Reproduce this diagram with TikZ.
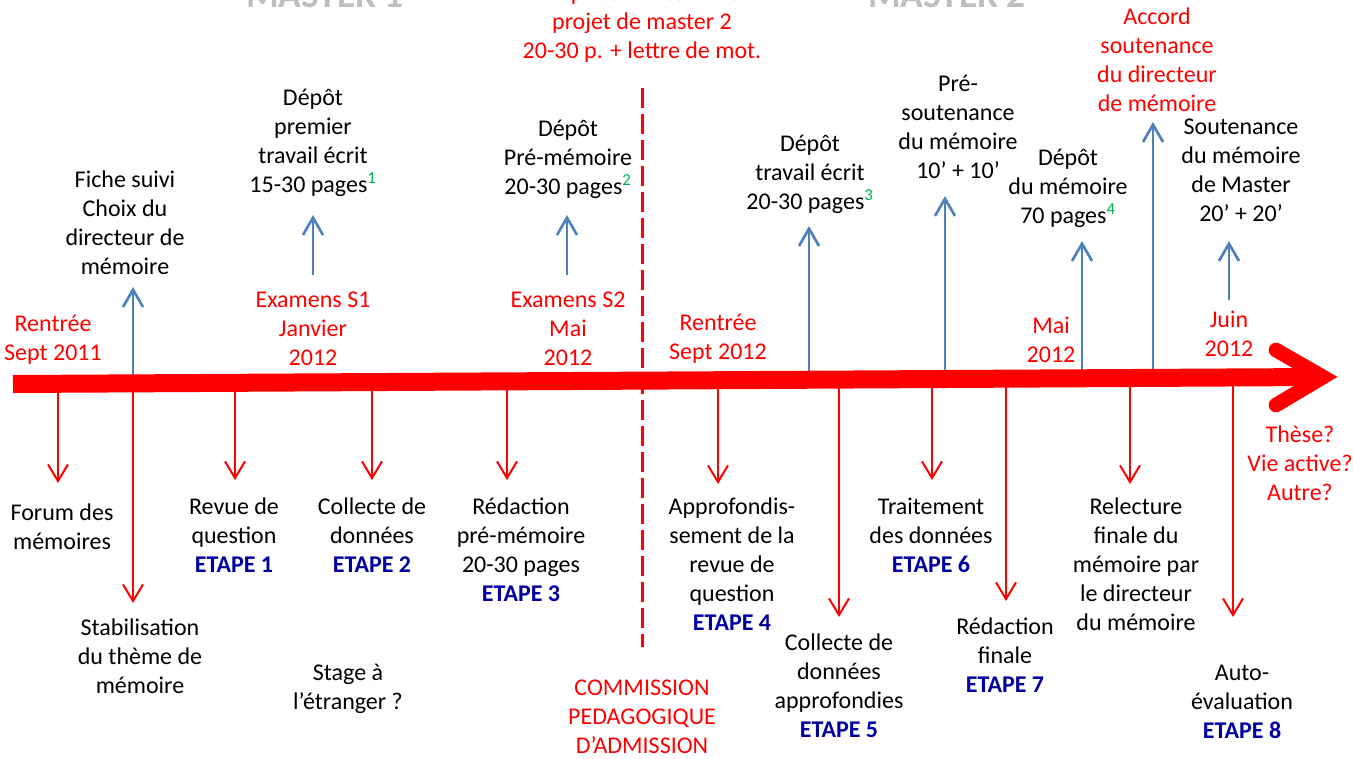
\documentclass[tikz,border=0pt]{standalone}
\usepackage{fontspec}
\setmainfont{Carlito}
\usetikzlibrary{arrows.meta}
\definecolor{axred}{RGB}{255,0,0}
\definecolor{upblue}{RGB}{79,129,189}
\definecolor{etapeblue}{RGB}{0,0,160}
\definecolor{supgreen}{RGB}{0,176,80}
\definecolor{mgray}{RGB}{191,191,191}
\newcommand{\supg}[1]{\textsuperscript{\color{supgreen}#1}}
\newcommand{\etapeb}[1]{\textbf{\color{etapeblue}ETAPE #1}}
\begin{document}
\begin{tikzpicture}[x=0.75pt,y=-0.75pt,
  lbl/.style={font=\fontsize{18}{21.75}\selectfont, align=center, inner sep=0pt, anchor=base},
  redlbl/.style={lbl, text=axred},
  masterlbl/.style={font=\fontsize{28}{34}\selectfont\bfseries, text=mgray, inner sep=0pt, anchor=base},
  uparr/.style={draw=upblue, line width=2pt, -{Straight Barb[length=13pt,width=15pt]}},
  downarr/.style={draw=axred, line width=1.5pt, -{Straight Barb[length=12.5pt,width=15pt]}},
  sepline/.style={draw=axred, line width=2.25pt, dash pattern=on 15pt off 4.5pt},
  band/.style={draw=axred, line width=13.5pt},
  chevron/.style={draw=axred, line width=11pt, line cap=round, miter limit=10}
]
\useasboundingbox (0,0) rectangle (1353,758);

% headings (cut at top)
\node[masterlbl] (m1) at (325,7) {MASTER 1};
\node[masterlbl] (m2) at (947,7) {MASTER 2};
\node[redlbl] (proj) at (642,58) {Dépôt du dossier de\\projet de master 2\\20-30 p. + lettre de mot.};

% separator
\coordinate (sepa) at (642,88);
\coordinate (sepb) at (642,647);
\draw[sepline] (sepa) -- (sepb);

% upper labels (y = baseline of last line)
\node[lbl] (fiche) at (125,274) {Fiche suivi\\Choix du\\directeur de\\mémoire};
\node[lbl] (dep1) at (313,192) {Dépôt\\premier\\travail écrit\\15-30 pages\supg{1}};
\node[lbl] (dep2) at (568,194) {Dépôt\\Pré-mémoire\\20-30 pages\supg{2}};
\node[lbl] (dep3) at (810,209) {Dépôt\\travail écrit\\20-30 pages\supg{3}};
\node[lbl] (presout) at (958,178) {Pré-\\soutenance\\du mémoire\\10’ + 10’};
\node[lbl] (depmem) at (1068,223) {Dépôt\\du mémoire\\70 pages\supg{4}};
\node[redlbl] (accord) at (1157,111) {Accord\\soutenance\\du directeur\\de mémoire};
\node[lbl] (sout) at (1241,221) {Soutenance\\du mémoire\\de Master\\20’ + 20’};

% dates
\node[redlbl] (rent1) at (53,360) {Rentrée\\Sept 2011};
\node[redlbl] (ex1) at (313,365) {Examens S1\\Janvier\\2012};
\node[redlbl] (ex2) at (568,365) {Examens S2\\Mai\\2012};
\node[redlbl] (rent2) at (718,359) {Rentrée\\Sept 2012};
\node[redlbl] (mai) at (1051,362) {Mai\\2012};
\node[redlbl] (juin) at (1229,356) {Juin\\2012};

% lower labels
\node[lbl] (forum) at (62,549) {Forum des\\mémoires};
\node[lbl] (stab) at (140,693) {Stabilisation\\du thème de\\mémoire};
\node[lbl] (revue) at (234,572) {Revue de\\question\\\etapeb{1}};
\node[lbl] (coll) at (372,572) {Collecte de\\données\\\etapeb{2}};
\node[lbl] (stage) at (348,709) {Stage à\\l’étranger ?};
\node[lbl] (redac) at (521,601) {Rédaction\\pré-mémoire\\20-30 pages\\\etapeb{3}};
\node[redlbl] (comm) at (642,753) {COMMISSION\\PEDAGOGIQUE\\D’ADMISSION};
\node[lbl] (approf) at (732,630) {Approfondis-\\sement de la\\revue de\\question\\\etapeb{4}};
\node[lbl] (coll5) at (839,737) {Collecte de\\données\\approfondies\\\etapeb{5}};
\node[lbl] (trait) at (931,572) {Traitement\\des données\\\etapeb{6}};
\node[lbl] (redfin) at (1005,692) {Rédaction\\finale\\\etapeb{7}};
\node[lbl] (relect) at (1136,630) {Relecture\\finale du\\mémoire par\\le directeur\\du mémoire};
\node[lbl] (auto) at (1242,738) {Auto-\\évaluation\\\etapeb{8}};
\node[redlbl] (these) at (1300,500) {Thèse?\\Vie active?\\Autre?};

% up arrows
\coordinate (u1a) at (133,380); \coordinate (u1b) at (133,287);
\coordinate (u2a) at (313,275); \coordinate (u2b) at (313,215);
\coordinate (u3a) at (567,275); \coordinate (u3b) at (567,215);
\coordinate (u4a) at (809,378); \coordinate (u4b) at (809,226);
\coordinate (u5a) at (945,378); \coordinate (u5b) at (945,196);
\coordinate (u6a) at (1082,378); \coordinate (u6b) at (1082,241);
\coordinate (u7a) at (1153,378); \coordinate (u7b) at (1153,122);
\coordinate (u8a) at (1229,300); \coordinate (u8b) at (1229,241);
\foreach \i in {1,...,8} \draw[uparr] (u\i a) -- (u\i b);

% down arrows
\coordinate (d1a) at (58,384);   \coordinate (d1b) at (58,483);
\coordinate (d2a) at (133,384);  \coordinate (d2b) at (133,603);
\coordinate (d3a) at (235,384);  \coordinate (d3b) at (235,480);
\coordinate (d4a) at (372,384);  \coordinate (d4b) at (372,480);
\coordinate (d5a) at (507,384);  \coordinate (d5b) at (507,480);
\coordinate (d6a) at (718,382);  \coordinate (d6b) at (718,484);
\coordinate (d7a) at (839,382);  \coordinate (d7b) at (839,617);
\coordinate (d8a) at (932,380);  \coordinate (d8b) at (932,480);
\coordinate (d9a) at (1006,380); \coordinate (d9b) at (1006,601);
\coordinate (d10a) at (1130,380); \coordinate (d10b) at (1130,484);
\coordinate (d11a) at (1233,380); \coordinate (d11b) at (1233,617);
\foreach \i in {1,...,11} \draw[downarr] (d\i a) -- (d\i b);

% main time axis
\coordinate (axa) at (13,384);
\coordinate (axb) at (1318,377);
\coordinate (tip) at (1323,377);
\coordinate (armu) at (1276,350);
\coordinate (armd) at (1276,405);
\draw[band] (axa) -- (axb);
\draw[chevron] (armu) -- (tip) -- (armd);
\end{tikzpicture}
\end{document}
